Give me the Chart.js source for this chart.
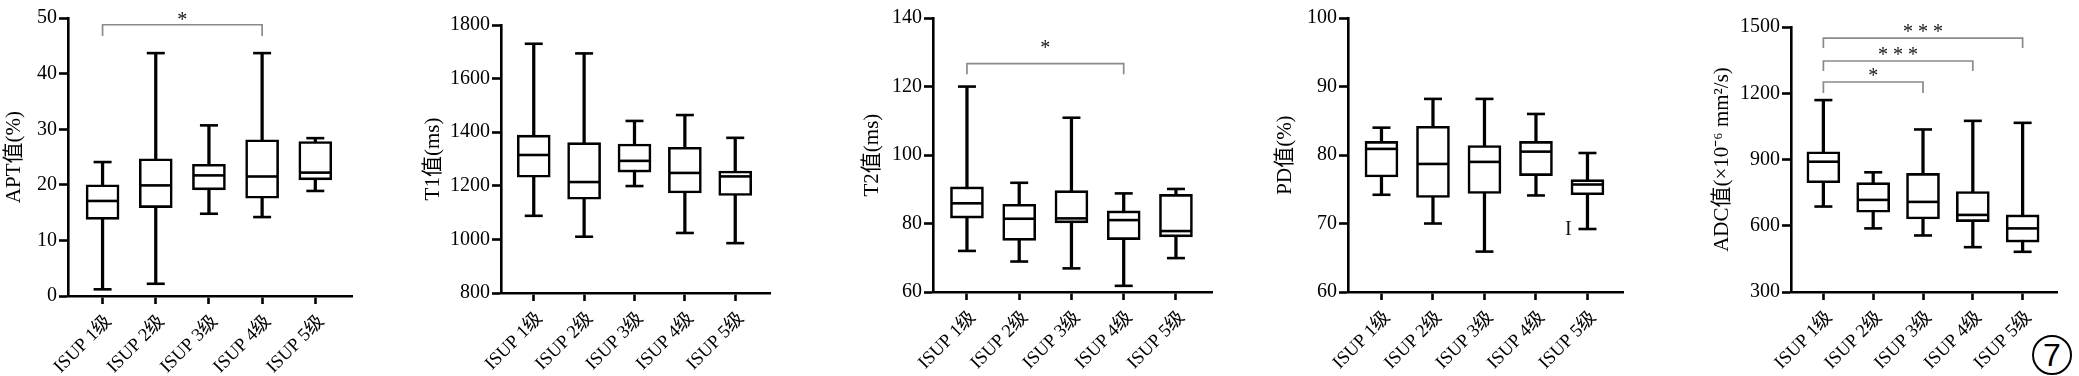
<!DOCTYPE html>
<html>
<head>
<meta charset="utf-8">
<script src="https://cdn.jsdelivr.net/npm/chart.js@4.4.1/dist/chart.umd.min.js"></script>
<style>
  html, body { margin: 0; padding: 0; background: #fff; }
  #wrap { position: relative; width: 2079px; height: 376px; overflow: hidden; }
  #wrap canvas { position: absolute; top: 0; }
  #figNo {
    position: absolute; left: 2032px; top: 335px; width: 36px; height: 36px;
    border: 2px solid #000; border-radius: 50%;
    font: 32px "Liberation Sans", Arial, sans-serif; text-align: center; line-height: 37px;
  }
</style>
</head>
<body>
<div id="wrap"><div id="figNo">7</div></div>
<script>
const categories = ['ISUP 1级', 'ISUP 2级', 'ISUP 3级', 'ISUP 4级', 'ISUP 5级'];

// APT值(%)
const aptLow = [1.2, 2.2, 14.8, 14.2, 18.9];
const aptQ1 = [13.8, 15.9, 19.1, 17.6, 20.9];
const aptMedian = [17.1, 19.9, 21.7, 21.5, 22.2];
const aptQ3 = [20.0, 24.7, 23.7, 28.1, 27.8];
const aptHigh = [24.1, 43.7, 30.7, 43.7, 28.4];
const aptTicks = [0, 10, 20, 30, 40, 50];

// T1值(ms)
const t1Low = [1088, 1010, 1199, 1024, 986];
const t1Q1 = [1232, 1150, 1251, 1173, 1164];
const t1Median = [1315, 1214, 1293, 1248, 1235];
const t1Q3 = [1389, 1361, 1356, 1344, 1255];
const t1High = [1730, 1694, 1442, 1464, 1379];
const t1Ticks = [800, 1000, 1200, 1400, 1600, 1800];

// T2值(ms)
const t2Low = [72.0, 68.9, 66.9, 61.8, 69.9];
const t2Q1 = [81.6, 75.1, 80.2, 75.3, 76.1];
const t2Median = [85.9, 81.4, 81.5, 81.0, 77.8];
const t2Q3 = [90.7, 85.6, 89.6, 83.7, 88.5];
const t2High = [120.0, 91.9, 110.9, 88.8, 90.1];
const t2Ticks = [60, 80, 100, 120, 140];

// PD值(%)
const pdLow = [74.2, 70.0, 65.9, 74.1, 69.2];
const pdQ1 = [76.8, 73.8, 74.4, 77.0, 74.2];
const pdMedian = [80.9, 78.7, 79.0, 80.5, 75.7];
const pdQ3 = [82.0, 84.2, 81.4, 82.0, 76.4];
const pdHigh = [84.0, 88.2, 88.2, 86.0, 80.3];
const pdTicks = [60, 70, 80, 90, 100];

// ADC值
const adcLow = [687, 588, 556, 503, 482];
const adcQ1 = [795, 661, 631, 619, 526];
const adcMedian = [890, 717, 708, 649, 588];
const adcQ3 = [935, 795, 837, 755, 649];
const adcHigh = [1169, 842, 1036, 1075, 1066];
const adcTicks = [300, 600, 900, 1200, 1500];

// significance brackets: [from, to, line value, drop value, label value, label]
const aptBrackets = [[0, 3, 48.8, 46.8, 50.35, '*']];
const t2Brackets = [[0, 3, 126.7, 123.6, 132.5, '*']];
const adcBrackets = [
  [0, 2, 1251, 1201, 1296, '*'],
  [0, 3, 1346, 1301, 1391, '* * *'],
  [0, 4, 1450, 1405, 1495, '* * *']
];
const pdNotes = [[3.63, 69.1, 'I']];

const SERIF = '"Liberation Serif", "Times New Roman", "Noto Sans CJK SC", serif';

const sigPlugin = {
  id: 'sig',
  afterDatasetsDraw(chart, args, opts) {
    const { ctx, scales: { x, y } } = chart;
    ctx.save();
    (opts.brackets || []).forEach(([a, b, lineV, dropV, labelV, text]) => {
      const x1 = x.getPixelForValue(a);
      const x2 = x.getPixelForValue(b);
      const yl = y.getPixelForValue(lineV);
      const yd = y.getPixelForValue(dropV);
      ctx.strokeStyle = '#8a8a8a';
      ctx.lineWidth = 1.7;
      ctx.beginPath();
      ctx.moveTo(x1, yd);
      ctx.lineTo(x1, yl);
      ctx.lineTo(x2, yl);
      ctx.lineTo(x2, yd);
      ctx.stroke();
      ctx.fillStyle = '#111';
      ctx.font = '20px ' + SERIF;
      ctx.textAlign = 'center';
      ctx.textBaseline = 'alphabetic';
      ctx.fillText(text, (x1 + x2) / 2, y.getPixelForValue(labelV) + 10);
    });
    (opts.notes || []).forEach(([xv, yv, text]) => {
      ctx.fillStyle = '#111';
      ctx.font = '20px ' + SERIF;
      ctx.textAlign = 'center';
      ctx.textBaseline = 'middle';
      ctx.fillText(text, x.getPixelForValue(xv), y.getPixelForValue(yv));
    });
    ctx.restore();
  }
};

function boxChart(p) {
  const canvas = document.createElement('canvas');
  canvas.width = p.width;
  canvas.height = 376;
  canvas.style.left = p.left + 'px';
  document.getElementById('wrap').appendChild(canvas);

  const pts = (arr) => arr.map((v, i) => ({ x: i, y: v }));
  const ranges = (a, b) => a.map((v, i) => ({ x: i, y: [v, b[i]] }));
  const tickMark = (r, data) => ({
    type: 'line', data: pts(data), showLine: false, pointStyle: 'line',
    pointRadius: r, pointHoverRadius: r, pointBorderWidth: 2.6, pointBorderColor: '#000', order: 0
  });
  const axisGrid = { offset: false, drawOnChartArea: false, tickLength: 9, tickWidth: 2.6, tickColor: '#000' };
  const axisBorder = { display: true, color: '#000', width: 2.6 };

  return new Chart(canvas, {
    type: 'bar',
    data: {
      datasets: [
        tickMark(15.5, p.median),
        tickMark(9, p.high),
        tickMark(9, p.low),
        {
          type: 'bar', data: ranges(p.q1, p.q3), backgroundColor: '#fff', borderColor: '#000',
          borderWidth: 2.6, borderSkipped: false, barThickness: 33, grouped: false, order: 1
        },
        {
          type: 'bar', data: ranges(p.low, p.high), backgroundColor: '#000',
          borderWidth: 0, barThickness: 2.6, grouped: false, order: 2
        }
      ]
    },
    options: {
      responsive: false,
      animation: false,
      devicePixelRatio: 1,
      events: [],
      layout: { padding: { left: 0, top: p.top, right: p.rightPad, bottom: 0 } },
      plugins: {
        legend: { display: false },
        tooltip: { enabled: false },
        sig: { brackets: p.brackets || [], notes: p.notes || [] }
      },
      scales: {
        x: {
          type: 'linear', min: -0.65, max: 4.69, offset: false,
          afterBuildTicks: (s) => { s.ticks = categories.map((c, i) => ({ value: i })); },
          afterFit: (s) => { s.height = 376 - p.bottom; },
          ticks: {
            autoSkip: false, minRotation: 45, maxRotation: 45, color: '#000',
            padding: 7, labelOffset: 6,
            font: { family: SERIF, size: 18.5 },
            callback: (v) => categories[v]
          },
          grid: { ...axisGrid, tickLength: 8 },
          border: axisBorder
        },
        y: {
          min: p.ticks[0], max: p.ticks[p.ticks.length - 1],
          afterBuildTicks: (s) => { s.ticks = p.ticks.map((v) => ({ value: v })); },
          afterFit: (s) => { s.width = p.yWidth; },
          ticks: {
            color: '#000', padding: 2, font: { family: SERIF, size: 20 },
            callback: (v) => String(v)
          },
          grid: axisGrid,
          border: axisBorder,
          title: {
            display: true, text: p.title, color: '#000',
            font: { family: SERIF, size: 21 },
            padding: { top: p.titlePad, bottom: 0 }
          }
        }
      }
    },
    plugins: [sigPlugin]
  });
}

boxChart({
  left: 0, width: 420, yWidth: 68, top: 12, bottom: 296, rightPad: 68, titlePad: 1.4,
  title: 'APT值(%)', ticks: aptTicks,
  low: aptLow, q1: aptQ1, median: aptMedian, q3: aptQ3, high: aptHigh, brackets: aptBrackets
});
boxChart({
  left: 420, width: 425, yWidth: 81, top: 25, bottom: 293, rightPad: 75, titlePad: 0.4,
  title: 'T1值(ms)', ticks: t1Ticks,
  low: t1Low, q1: t1Q1, median: t1Median, q3: t1Q3, high: t1High
});
boxChart({
  left: 845, width: 420, yWidth: 88, top: 14, bottom: 292, rightPad: 53, titlePad: 14.4,
  title: 'T2值(ms)', ticks: t2Ticks,
  low: t2Low, q1: t2Q1, median: t2Median, q3: t2Q3, high: t2High, brackets: t2Brackets
});
boxChart({
  left: 1265, width: 435, yWidth: 83, top: 16, bottom: 292, rightPad: 77, titlePad: 7.4,
  title: 'PD值(%)', ticks: pdTicks,
  low: pdLow, q1: pdQ1, median: pdMedian, q3: pdQ3, high: pdHigh, notes: pdNotes
});
boxChart({
  left: 1700, width: 379, yWidth: 91, top: 27, bottom: 292, rightPad: 22, titlePad: 9.4,
  title: 'ADC值(×10⁻⁶ mm²/s)', ticks: adcTicks,
  low: adcLow, q1: adcQ1, median: adcMedian, q3: adcQ3, high: adcHigh, brackets: adcBrackets
});
</script>
</body>
</html>
